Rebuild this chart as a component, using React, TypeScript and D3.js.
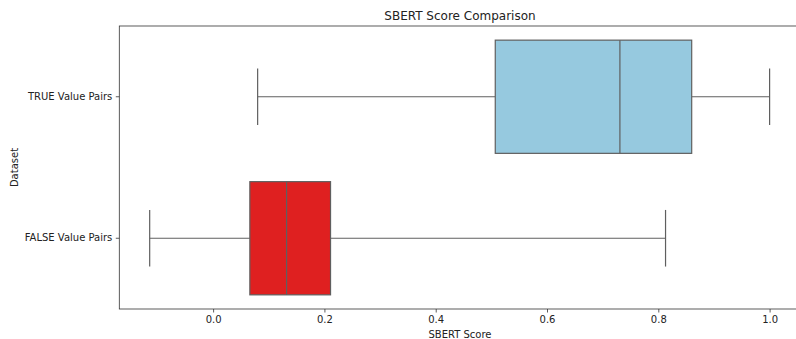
import React, { useEffect, useRef } from 'react'
import * as d3 from 'd3'

// box stats
const categories = ['TRUE Value Pairs', 'FALSE Value Pairs']
const whiskerLow = [0.080, -0.114]
const q1 = [0.507, 0.066]
const median = [0.731, 0.132]
const q3 = [0.860, 0.211]
const whiskerHigh = [1.0, 0.813]
const boxColors = ['#96c9df', '#df2020']
const xTicks = [0.0, 0.2, 0.4, 0.6, 0.8, 1.0]

const W = 796
const H = 339
const lineColor = '#5f5f5f'

export default function App() {
    const ref = useRef<SVGSVGElement>(null)

    useEffect(() => {
        const svg = d3.select(ref.current)
        svg.selectAll('*').remove()

        const left = 119.3, top = 26, bottom = 309, right = 800.6
        const font = 'DejaVu Sans, sans-serif'

        const x = d3.scaleLinear().domain([-0.1686, 1.0557]).range([left, right])
        const y = d3.scaleBand().domain(categories).range([top, bottom]).padding(0)
        const bw = y.bandwidth()

        const rows = categories.map((c, i) => ({
            c, lo: whiskerLow[i], q1: q1[i], med: median[i], q3: q3[i], hi: whiskerHigh[i], color: boxColors[i]
        }))

        const g = svg.append('g')
        rows.forEach(d => {
            const cy = (y(d.c) as number) + bw / 2
            // whiskers
            g.append('line').attr('x1', x(d.lo)).attr('x2', x(d.q1)).attr('y1', cy).attr('y2', cy)
                .attr('stroke', lineColor).attr('stroke-width', 1.2)
            g.append('line').attr('x1', x(d.q3)).attr('x2', x(d.hi)).attr('y1', cy).attr('y2', cy)
                .attr('stroke', lineColor).attr('stroke-width', 1.2)
            // caps
            ;[d.lo, d.hi].forEach(v => {
                g.append('line').attr('x1', x(v)).attr('x2', x(v))
                    .attr('y1', cy - bw * 0.2).attr('y2', cy + bw * 0.2)
                    .attr('stroke', lineColor).attr('stroke-width', 1.2)
            })
            // box
            g.append('rect')
                .attr('x', x(d.q1)).attr('width', x(d.q3) - x(d.q1))
                .attr('y', cy - bw * 0.4).attr('height', bw * 0.8)
                .attr('fill', d.color).attr('stroke', lineColor).attr('stroke-width', 1.2)
            g.append('line').attr('x1', x(d.med)).attr('x2', x(d.med))
                .attr('y1', cy - bw * 0.4).attr('y2', cy + bw * 0.4)
                .attr('stroke', lineColor).attr('stroke-width', 1.2)
        })

        // axes
        const xAxis = svg.append('g').attr('transform', `translate(0,${bottom})`)
            .call(d3.axisBottom(x).tickValues(xTicks).tickFormat(d3.format('.1f')).tickSizeOuter(0).tickSize(3.5).tickPadding(3.5))
        const yAxis = svg.append('g').attr('transform', `translate(${left},0)`)
            .call(d3.axisLeft(y).tickSizeOuter(0).tickSize(3.5).tickPadding(3.5))
        ;[xAxis, yAxis].forEach(a => {
            a.select('.domain').remove()
            a.selectAll('line').attr('stroke', '#333').attr('stroke-width', 0.8)
            a.selectAll('text').attr('font-family', font).attr('font-size', 10).attr('fill', '#222')
        })

        // spines
        svg.append('rect').attr('x', left).attr('y', top).attr('width', right - left).attr('height', bottom - top)
            .attr('fill', 'none').attr('stroke', '#333').attr('stroke-width', 0.8)

        svg.append('text').attr('x', (left + right) / 2).attr('y', 20).attr('text-anchor', 'middle')
            .attr('font-family', font).attr('font-size', 12).attr('fill', '#222').text('SBERT Score Comparison')
        svg.append('text').attr('x', (left + right) / 2).attr('y', 338).attr('text-anchor', 'middle')
            .attr('font-family', font).attr('font-size', 10).attr('fill', '#222').text('SBERT Score')
        svg.append('text').attr('transform', `translate(18,${(top + bottom) / 2}) rotate(-90)`).attr('text-anchor', 'middle')
            .attr('font-family', font).attr('font-size', 10).attr('fill', '#222').text('Dataset')
    }, [])

    return (
        <svg ref={ref} width={W} height={H} style={{ position: 'fixed', left: 0, top: 0, background: '#fff' }} />
    )
}
